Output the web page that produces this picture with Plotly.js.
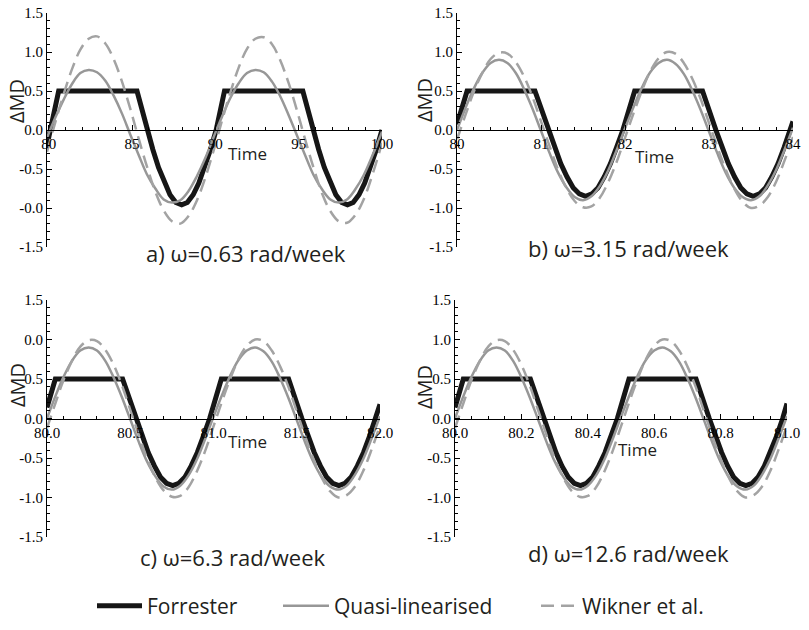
<!DOCTYPE html>
<html><head><meta charset="utf-8">
<script src="https://cdn.plot.ly/plotly-3.0.1.min.js"></script>
<style>html,body{margin:0;padding:0;background:#fff}</style>
</head><body><div id="chart" style="width:809px;height:630px"></div>
<script>
// ---------- data ----------
const seriesNames = ["Forrester", "Quasi-linearised", "Wikner et al."];
const captions = ["a) \u03c9=0.63 rad/week", "b) \u03c9=3.15 rad/week", "c) \u03c9=6.3 rad/week", "d) \u03c9=12.6 rad/week"];

// panel a (time 79.9..100)
const tA = [79.9,80.4,80.9,81.4,81.9,82.4,82.9,83.4,83.9,84.4,84.9,85.4,85.9,86.4,86.9,87.4,87.9,88.4,88.9,89.4,89.9,90.4,90.9,91.4,91.9,92.4,92.9,93.4,93.9,94.4,94.9,95.4,95.9,96.4,96.9,97.4,97.9,98.4,98.9,99.4,99.9,100.0];
const quasiA = [-0.10,0.16,0.39,0.59,0.73,0.77,0.74,0.63,0.44,0.21,-0.06,-0.32,-0.57,-0.75,-0.89,-0.93,-0.90,-0.78,-0.59,-0.36,-0.09,0.17,0.41,0.60,0.73,0.77,0.74,0.62,0.43,0.19,-0.07,-0.33,-0.58,-0.76,-0.89,-0.93,-0.89,-0.76,-0.58,-0.34,-0.08,-0.02];
const wiknerA = [-0.28,0.10,0.46,0.78,1.03,1.17,1.20,1.11,0.91,0.62,0.27,-0.11,-0.47,-0.79,-1.03,-1.17,-1.20,-1.10,-0.90,-0.61,-0.26,0.12,0.48,0.80,1.04,1.17,1.19,1.10,0.89,0.60,0.25,-0.13,-0.49,-0.81,-1.04,-1.17,-1.19,-1.09,-0.89,-0.59,-0.24,-0.16];
const tForA = [79.9,80.1,80.6,85.3,85.9,86.25,86.59,86.94,87.28,87.63,87.98,88.32,88.67,89.01,89.36,89.71,90.05,90.55,95.25,95.85,96.2,96.54,96.89,97.23,97.58,97.93,98.27,98.62,98.96,99.31,99.66,100.0];
const forA = [-0.2,0,0.5,0.5,0,-0.25,-0.48,-0.68,-0.83,-0.93,-0.96,-0.93,-0.83,-0.68,-0.48,-0.25,0,0.5,0.5,0,-0.25,-0.48,-0.68,-0.83,-0.93,-0.96,-0.93,-0.83,-0.68,-0.48,-0.25,0];

// panels b, c, d share the same wave shape (same phase samples)
const tB = [80.0,80.1,80.2,80.3,80.4,80.5,80.6,80.7,80.8,80.9,81.0,81.1,81.2,81.3,81.4,81.5,81.6,81.7,81.8,81.9,82.0,82.1,82.2,82.3,82.4,82.5,82.6,82.7,82.8,82.9,83.0,83.1,83.2,83.3,83.4,83.5,83.6,83.7,83.8,83.9,84.0];
const tC = [80.0,80.05,80.1,80.15,80.2,80.25,80.3,80.35,80.4,80.45,80.5,80.55,80.6,80.65,80.7,80.75,80.8,80.85,80.9,80.95,81.0,81.05,81.1,81.15,81.2,81.25,81.3,81.35,81.4,81.45,81.5,81.55,81.6,81.65,81.7,81.75,81.8,81.85,81.9,81.95,82.0];
const tD = [80.0,80.025,80.05,80.075,80.1,80.125,80.15,80.175,80.2,80.225,80.25,80.275,80.3,80.325,80.35,80.375,80.4,80.425,80.45,80.475,80.5,80.525,80.55,80.575,80.6,80.625,80.65,80.675,80.7,80.725,80.75,80.775,80.8,80.825,80.85,80.875,80.9,80.925,80.95,80.975,81.0];
const quasiBCD = [0,0.28,0.53,0.73,0.86,0.90,0.86,0.73,0.52,0.27,-0.01,-0.29,-0.54,-0.73,-0.86,-0.90,-0.85,-0.72,-0.52,-0.26,0.02,0.29,0.54,0.74,0.86,0.90,0.85,0.72,0.51,0.26,-0.02,-0.30,-0.55,-0.74,-0.86,-0.90,-0.85,-0.71,-0.51,-0.25,0.03];
const wiknerBCD = [-0.12,0.19,0.49,0.73,0.91,0.99,0.98,0.87,0.68,0.42,0.11,-0.20,-0.50,-0.74,-0.91,-0.99,-0.98,-0.87,-0.67,-0.41,-0.10,0.21,0.50,0.75,0.92,1.00,0.98,0.86,0.66,0.40,0.09,-0.22,-0.51,-0.75,-0.92,-1.00,-0.97,-0.86,-0.66,-0.39,-0.09];

const tForB = [80.0,80.12,80.928,81.087,81.161,81.235,81.309,81.383,81.457,81.531,81.605,81.679,81.753,81.827,81.901,81.975,82.115,82.923,83.082,83.156,83.23,83.304,83.378,83.452,83.526,83.6,83.674,83.748,83.822,83.896,83.97,84.0];
const forB = [0.07,0.5,0.5,0,-0.22,-0.43,-0.60,-0.74,-0.82,-0.85,-0.82,-0.74,-0.60,-0.43,-0.22,0,0.5,0.5,0,-0.22,-0.43,-0.60,-0.74,-0.82,-0.85,-0.82,-0.74,-0.60,-0.43,-0.22,0,0.11];
const tForC = [80.0,80.05,80.454,80.534,80.571,80.608,80.645,80.681,80.718,80.755,80.792,80.829,80.866,80.903,80.94,80.977,81.047,81.451,81.531,81.568,81.605,81.642,81.679,81.716,81.753,81.79,81.827,81.864,81.901,81.938,81.975,82.0];
const forC = [0.14,0.5,0.5,0,-0.22,-0.43,-0.60,-0.74,-0.82,-0.85,-0.82,-0.74,-0.60,-0.43,-0.22,0,0.5,0.5,0,-0.22,-0.43,-0.60,-0.74,-0.82,-0.85,-0.82,-0.74,-0.60,-0.43,-0.22,0,0.18];
const tForD = [80.0,80.025,80.227,80.267,80.285,80.304,80.322,80.341,80.359,80.378,80.396,80.415,80.433,80.452,80.47,80.489,80.524,80.726,80.766,80.784,80.803,80.821,80.839,80.858,80.876,80.895,80.913,80.932,80.95,80.969,80.987,81.0];
const forD = [0.14,0.5,0.5,0,-0.22,-0.43,-0.60,-0.74,-0.82,-0.85,-0.82,-0.74,-0.60,-0.43,-0.22,0,0.5,0.5,0,-0.22,-0.43,-0.60,-0.74,-0.82,-0.85,-0.82,-0.74,-0.60,-0.43,-0.22,0,0.19];

// tick labels (as printed in the figure)
const yTickVals = [-1.5,-1.0,-0.5,0,0.5,1.0,1.5];
const yLabelsA = ["-1.5","-0.0","-0.5","0.0","0.5","1.0","1.5"];
const yLabelsB = ["-1.5","-1.0","-0.5","0.0","0.5","1.0","1.5"];
const yLabelsC = ["-1.5","-1.0","-0.5","0.0","0.5","0.0","1.5"];
const yLabelsD = ["-1.5","-1.0","-0.5","0.0","0.5","1.0","1.5"];
const xValsA = [80,85,90,95,100], xLabelsA = ["80","85","90","95","100"];
const xValsB = [80,81,82,83,84], xLabelsB = ["80","81","82","83","84"];
const xValsC = [80,80.5,81,81.5,82], xLabelsC = ["80.0","80.5","81.0","81.5","82.0"];
const xValsD = [80,80.2,80.4,80.6,80.8,81], xLabelsD = ["80.0","80.2","80.4","80.6","80.8","81.0"];

// ---------- styling ----------
const W = 809, H = 630;
const BLACK = '#161616', GREY = '#979797', DGREY = '#a3a3a3';
const px = v => v / W, py = v => 1 - v / H;

function traces(ax, tF, yF, tQ, yQ, yW, legend) {
  const xa = 'x' + (ax === 1 ? '' : ax), ya = 'y' + (ax === 1 ? '' : ax);
  return [
    {x: tF, y: yF, xaxis: xa, yaxis: ya, type: 'scatter', mode: 'lines', name: seriesNames[0], legend: 'legend',
     line: {color: BLACK, width: 5}, showlegend: legend, hoverinfo: 'skip'},
    {x: tQ, y: yQ, xaxis: xa, yaxis: ya, type: 'scatter', mode: 'lines', name: seriesNames[1], legend: 'legend2',
     line: {color: GREY, width: 2.5, shape: 'spline', smoothing: 1}, showlegend: legend, hoverinfo: 'skip'},
    {x: tQ, y: yW, xaxis: xa, yaxis: ya, type: 'scatter', mode: 'lines', name: seriesNames[2], legend: 'legend3',
     line: {color: DGREY, width: 2.5, dash: '13px,7px', shape: 'spline', smoothing: 1}, showlegend: legend, hoverinfo: 'skip'}
  ];
}

const data = [].concat(
  traces(1, tForA, forA, tA, quasiA, wiknerA, true),
  traces(2, tForB, forB, tB, quasiBCD, wiknerBCD, false),
  traces(3, tForC, forC, tC, quasiBCD, wiknerBCD, false),
  traces(4, tForD, forD, tD, quasiBCD, wiknerBCD, false)
);

const tickFont = {family: 'Liberation Serif, Times New Roman, serif', size: 15, color: '#000'};
function xAxis(domain, range, vals, labels, minorDt, pos) {
  return {domain: domain, range: range, anchor: 'free', position: pos, side: 'bottom',
    showline: true, linecolor: '#000', linewidth: 1, showgrid: false, zeroline: false,
    ticks: 'inside', ticklen: 5, tickwidth: 1, tickcolor: '#000',
    tickmode: 'array', tickvals: vals, ticktext: labels, tickfont: tickFont,
    minor: {tickmode: 'linear', tick0: 0, dtick: minorDt, ticks: 'inside', ticklen: 3, tickwidth: 1, tickcolor: '#000', showgrid: false},
    fixedrange: true};
}
function yAxis(domain, anchor, labels) {
  return {domain: domain, range: [-1.5, 1.5], anchor: anchor, side: 'left',
    showline: true, linecolor: '#000', linewidth: 1, showgrid: false, zeroline: false,
    ticks: 'inside', ticklen: 5, tickwidth: 1, tickcolor: '#000',
    tickmode: 'array', tickvals: yTickVals, ticktext: labels, tickfont: tickFont,
    minor: {tickmode: 'linear', tick0: 0, dtick: 0.1, ticks: 'inside', ticklen: 3, tickwidth: 1, tickcolor: '#000', showgrid: false},
    fixedrange: true};
}

const topY = [py(247), py(13)], botY = [py(537), py(300)];
const midTop = (topY[0] + topY[1]) / 2, midBot = (botY[0] + botY[1]) / 2;

const sans = 'Open Sans, Noto Sans, sans-serif';
function ann(text, x, y, size, angle) {
  return {text: text, xref: 'paper', yref: 'paper', x: px(x), y: py(y), xanchor: 'center', yanchor: 'middle',
    showarrow: false, textangle: angle || 0, font: {family: sans, size: size, color: '#231f20'}};
}
function leg(x, iw) {
  return {orientation: 'h', x: px(x), xanchor: 'left', y: py(606), yanchor: 'middle',
    font: {family: sans, size: 21, color: '#231f20'}, itemwidth: iw, bgcolor: 'rgba(0,0,0,0)', borderwidth: 0};
}

const layout = {
  width: W, height: H, autosize: false,
  margin: {l: 0, r: 0, t: 0, b: 0},
  paper_bgcolor: '#fff', plot_bgcolor: 'rgba(0,0,0,0)',
  xaxis: xAxis([px(47), px(382)], [79.9, 100], xValsA, xLabelsA, 1, midTop),
  yaxis: yAxis(topY, 'x', yLabelsA),
  xaxis2: xAxis([px(457), px(793)], [80, 84], xValsB, xLabelsB, 0.2, midTop),
  yaxis2: yAxis(topY, 'x2', yLabelsB),
  xaxis3: xAxis([px(47), px(380)], [80, 82], xValsC, xLabelsC, 0.1, midBot),
  yaxis3: yAxis(botY, 'x3', yLabelsC),
  xaxis4: xAxis([px(455), px(787)], [80, 81], xValsD, xLabelsD, 0.05, midBot),
  yaxis4: yAxis(botY, 'x4', yLabelsD),
  showlegend: true,
  legend: leg(92, 45),
  legend2: leg(278, 46),
  legend3: leg(536, 36),
  annotations: [
    ann('\u0394MD', 17, 101, 20, -90), ann('\u0394MD', 424, 100, 20, -90),
    ann('\u0394MD', 17, 385, 20, -90), ann('\u0394MD', 424, 387, 20, -90),
    ann('Time', 247, 153, 17), ann('Time', 654, 156, 17),
    ann('Time', 247, 442, 17), ann('Time', 637, 449, 17),
    ann(captions[0], 246, 253, 22), ann(captions[1], 628, 248, 22),
    ann(captions[2], 232, 557, 22), ann(captions[3], 628, 553, 22)
  ]
};

Plotly.newPlot('chart', data, layout, {staticPlot: true, displayModeBar: false});
</script></body></html>
